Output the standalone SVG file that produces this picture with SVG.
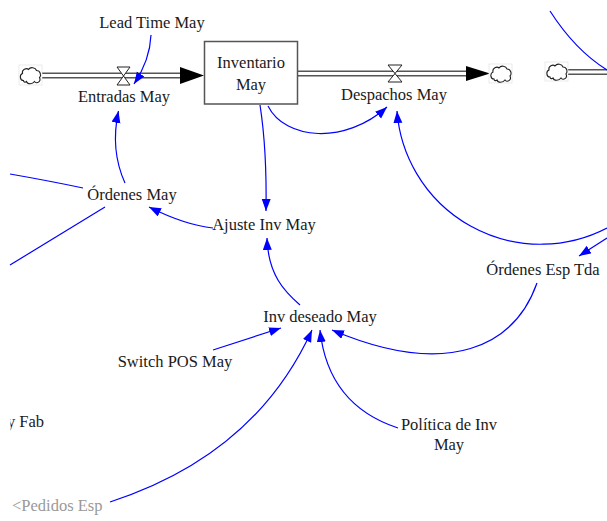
<svg xmlns="http://www.w3.org/2000/svg" width="607" height="521" viewBox="0 0 607 521">
<style>
text{font-family:"Liberation Serif","Times New Roman",serif;font-size:16.5px;fill:#1a1a1a;text-anchor:middle}
.shadow{fill:#999}
.link{fill:none;stroke:#0000ff;stroke-width:1.2;marker-end:url(#ah)}
.plain{fill:none;stroke:#0000ff;stroke-width:1.2}
.pipeo{fill:none;stroke:#555;stroke-width:6}
.pipei{fill:none;stroke:#fff;stroke-width:3}
.cloud{fill:#fff;stroke:#222;stroke-width:1.1}
.cbox{fill:#fff;stroke:#ddd;stroke-width:0.6}
.valve{fill:#fff;stroke:#222;stroke-width:1}
.fhead{fill:#000}
</style>
<defs>
<marker id="ah" markerUnits="userSpaceOnUse" markerWidth="13" markerHeight="10" refX="12" refY="4.5" orient="auto">
<path d="M0,0 L12,4.5 L0,9 Z" fill="#0000ff"/>
</marker>
<clipPath id="clipL"><rect x="10.5" y="0" width="600" height="521"/></clipPath>
<path id="cl" d="M4,14 C0,14 0,8 3,7 C2,3 7,1 9,3 C11,0 16,1 17,4 C21,4 22,9 20,11 C22,15 17,18 15,15 C13,18 8,18 7,15 C6,16 4,16 4,14 Z"/>
</defs>
<rect width="607" height="521" fill="#fff"/>

<g id="flows">
<path class="pipeo" d="M41,75.5 H182"/>
<path class="pipei" d="M41,75.5 H182"/>
<polygon class="fhead" points="180,67 204,75.5 180,84"/>
<path class="pipeo" d="M297,73.5 H468"/>
<path class="pipei" d="M297,73.5 H468"/>
<polygon class="fhead" points="466,66 490,73.5 466,81"/>
<path class="pipeo" d="M567,72 H607"/>
<path class="pipei" d="M567,72 H607"/>
</g>

<g id="cloud-left"><rect class="cbox" x="19" y="65" width="23" height="20"/><use href="#cl" class="cloud" x="19.5" y="66.5"/></g>
<g id="cloud-right"><rect class="cbox" x="489" y="64" width="23" height="19"/><use href="#cl" class="cloud" x="490" y="65"/></g>
<g id="cloud-right2"><rect class="cbox" x="545" y="62" width="23" height="19"/><use href="#cl" class="cloud" x="546" y="63"/></g>

<g id="entradas-may">
<path class="valve" d="M117,67 L130,67 L117,85 L130,85 Z"/>
<text x="124" y="102">Entradas May</text>
</g>
<g id="despachos-may">
<path class="valve" d="M388,65 L402,65 L388,82 L402,82 Z"/>
<text x="394" y="100">Despachos May</text>
</g>
<g id="inventario-may">
<rect x="204.5" y="41.5" width="93" height="62.5" fill="#fff" stroke="#555" stroke-width="1.5"/>
<text x="251" y="68">Inventario</text>
<text x="251" y="90">May</text>
</g>
<g id="lead-time-may"><text x="152" y="28">Lead Time May</text></g>
<g id="ordenes-may"><text x="132" y="200">Órdenes May</text></g>
<g id="ajuste-inv-may"><text x="264" y="230">Ajuste Inv May</text></g>
<g id="inv-deseado-may"><text x="320" y="322">Inv deseado May</text></g>
<g id="switch-pos-may"><text x="175" y="367">Switch POS May</text></g>
<g id="politica-inv-may"><text x="449" y="430">Política de Inv</text><text x="449" y="450">May</text></g>
<g id="ordenes-esp-tda"><text x="543" y="275">Órdenes Esp Tda</text></g>
<g id="fab" clip-path="url(#clipL)"><text x="44" y="427" style="text-anchor:end">y Fab</text></g>
<g id="pedidos-esp"><text class="shadow" x="12" y="511" style="text-anchor:start">&lt;Pedidos Esp</text></g>

<g id="connectors">
<path class="link" d="M151,35 Q150,60 134,84"/>
<path class="link" d="M125,183 Q110,150 118.5,111"/>
<path class="link" d="M260,105 Q267,150 266,211"/>
<path class="link" d="M268,106 C285,140 345,145 387,107"/>
<path class="link" d="M607,228 A144,144 0 0 1 397,111"/>
<path class="link" d="M213,228 Q185,225 149,207"/>
<path class="link" d="M300,305 C285,292 268,275 267,238"/>
<path class="link" d="M213,350 L281,328"/>
<path class="link" d="M110,502 Q255,455 312,330"/>
<path class="link" d="M398,428 Q328,405 320,330"/>
<path class="link" d="M537,283 C515,345 450,380 332,330"/>
<path class="link" d="M607,238 L579,256"/>
<path class="plain" d="M550,11 Q575,50 607,70"/>
<path class="plain" d="M10,174 Q50,181 83,188"/>
<path class="plain" d="M105,207 L10,265"/>
</g>
</svg>
